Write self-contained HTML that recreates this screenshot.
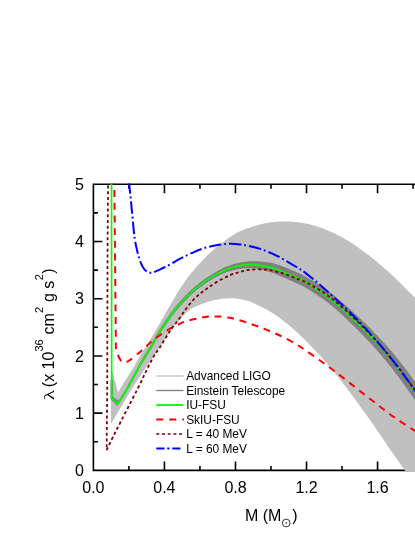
<!DOCTYPE html>
<html><head><meta charset="utf-8"><title>chart</title>
<style>html,body{margin:0;padding:0;background:#fff;}svg{display:block;will-change:transform;}</style></head>
<body>
<svg width="415" height="537" viewBox="0 0 415 537">
<defs><clipPath id="cp"><rect x="92.4" y="183.5" width="330" height="287.8"/></clipPath></defs>
<rect width="415" height="537" fill="#fff"/>
<path d="M93.4,184.2 H420 M93.4,470.4 H420 M93.4,184.2 V470.4" stroke="#000" stroke-width="1.6" fill="none" stroke-linecap="square"/>
<path d="M128.92,184.2 v4.5 M128.92,470.4 v-4.5 M164.44,184.2 v9.0 M164.44,470.4 v-9.0 M199.96,184.2 v4.5 M199.96,470.4 v-4.5 M235.48,184.2 v9.0 M235.48,470.4 v-9.0 M271.00,184.2 v4.5 M271.00,470.4 v-4.5 M306.52,184.2 v9.0 M306.52,470.4 v-9.0 M342.04,184.2 v4.5 M342.04,470.4 v-4.5 M377.56,184.2 v9.0 M377.56,470.4 v-9.0 M413.08,184.2 v4.5 M413.08,470.4 v-4.5 M93.4,441.78 h4.5 M93.4,413.17 h9.0 M93.4,384.55 h4.5 M93.4,355.94 h9.0 M93.4,327.32 h4.5 M93.4,298.71 h9.0 M93.4,270.10 h4.5 M93.4,241.48 h9.0 M93.4,212.87 h4.5 " stroke="#000" stroke-width="1.6" fill="none"/>
<g clip-path="url(#cp)">
<path d="M110.90,372.00 L110.90,423.60 L111.20,423.60 L115.02,417.15 L120.55,407.80 L126.41,397.95 L131.20,390.00 L134.50,384.72 L137.06,380.77 L139.29,377.45 L141.60,374.00 L144.05,370.35 L146.44,366.85 L148.78,363.43 L151.10,360.00 L153.46,356.47 L155.82,352.89 L158.07,349.47 L160.10,346.40 L161.81,343.80 L163.28,341.54 L164.66,339.44 L166.10,337.30 L167.58,335.11 L169.04,332.96 L170.55,330.81 L172.20,328.60 L174.07,326.25 L176.10,323.80 L178.13,321.43 L180.00,319.30 L181.62,317.49 L183.08,315.91 L184.53,314.44 L186.10,313.00 L187.84,311.53 L189.68,310.10 L191.55,308.77 L193.40,307.60 L195.16,306.67 L196.87,305.91 L198.65,305.23 L200.60,304.50 L202.83,303.68 L205.25,302.83 L207.70,302.01 L210.00,301.30 L212.10,300.71 L214.09,300.21 L216.03,299.78 L218.00,299.40 L219.95,299.06 L221.87,298.77 L223.85,298.54 L226.00,298.40 L228.33,298.31 L230.79,298.29 L233.39,298.37 L236.10,298.60 L238.99,298.98 L242.04,299.48 L245.15,300.14 L248.20,301.00 L251.17,302.09 L254.11,303.39 L257.04,304.82 L260.00,306.30 L262.99,307.79 L265.99,309.35 L269.00,311.01 L272.00,312.80 L275.00,314.75 L278.00,316.83 L281.00,319.02 L284.00,321.30 L287.00,323.68 L290.00,326.16 L293.00,328.73 L296.00,331.40 L299.00,334.17 L302.00,337.04 L305.00,339.99 L308.00,343.00 L311.00,346.05 L314.00,349.16 L317.00,352.34 L320.00,355.60 L323.00,358.96 L326.00,362.39 L329.00,365.91 L332.00,369.50 L335.00,373.17 L338.00,376.92 L341.00,380.73 L344.00,384.60 L347.00,388.52 L350.00,392.50 L353.00,396.53 L356.00,400.60 L359.00,404.71 L362.00,408.88 L365.00,413.07 L368.00,417.30 L371.00,421.55 L374.00,425.84 L377.00,430.15 L380.00,434.50 L382.97,438.86 L385.91,443.24 L388.90,447.67 L392.00,452.20 L395.57,457.30 L399.45,462.81 L402.96,467.76 L405.40,471.20 L420.00,471.00 L420.00,303.00 L418.42,301.38 L416.19,299.09 L413.49,296.33 L410.50,293.30 L407.12,289.89 L403.29,286.04 L399.30,282.08 L395.40,278.30 L391.65,274.76 L387.90,271.31 L384.15,267.95 L380.40,264.70 L376.63,261.55 L372.86,258.51 L369.08,255.56 L365.30,252.70 L361.52,249.90 L357.74,247.17 L353.97,244.56 L350.20,242.10 L346.18,239.69 L341.99,237.34 L338.16,235.28 L335.20,233.70 L333.66,232.88 L333.12,232.62 L332.67,232.49 L331.40,232.00 L328.96,230.99 L325.86,229.71 L322.51,228.37 L319.30,227.20 L316.30,226.22 L313.30,225.32 L310.30,224.51 L307.30,223.80 L304.28,223.19 L301.25,222.67 L298.22,222.24 L295.20,221.90 L292.20,221.64 L289.20,221.48 L286.20,221.39 L283.20,221.40 L280.18,221.49 L277.15,221.66 L274.12,221.93 L271.10,222.30 L268.10,222.78 L265.10,223.37 L262.10,224.05 L259.10,224.80 L256.01,225.66 L252.88,226.62 L249.82,227.63 L247.00,228.60 L244.45,229.52 L242.09,230.41 L239.89,231.33 L237.80,232.30 L235.86,233.34 L234.08,234.42 L232.35,235.54 L230.60,236.70 L228.80,237.89 L227.01,239.11 L225.21,240.38 L223.40,241.70 L221.58,243.08 L219.75,244.51 L217.92,245.98 L216.10,247.50 L214.29,249.06 L212.49,250.66 L210.70,252.31 L208.90,254.00 L207.10,255.73 L205.30,257.51 L203.50,259.33 L201.70,261.20 L199.83,263.21 L197.92,265.32 L196.10,267.37 L194.50,269.20 L193.19,270.71 L192.10,272.02 L191.11,273.24 L190.10,274.50 L189.15,275.69 L188.29,276.79 L187.33,278.07 L186.10,279.80 L184.47,282.15 L182.56,284.94 L180.57,287.92 L178.70,290.80 L177.00,293.56 L175.37,296.33 L173.78,299.09 L172.20,301.80 L170.64,304.46 L169.12,307.08 L167.61,309.68 L166.10,312.30 L164.59,314.95 L163.09,317.62 L161.60,320.28 L160.10,322.90 L158.60,325.48 L157.10,328.03 L155.60,330.57 L154.10,333.10 L152.60,335.64 L151.11,338.18 L149.61,340.70 L148.10,343.20 L146.54,345.74 L144.94,348.29 L143.39,350.75 L142.00,353.00 L140.85,354.88 L139.88,356.49 L138.92,358.10 L137.80,360.00 L136.50,362.25 L135.11,364.72 L133.61,367.32 L132.00,370.00 L130.22,372.79 L128.29,375.70 L126.34,378.64 L124.50,381.50 L122.65,384.50 L120.78,387.62 L119.14,390.38 L118.00,392.30 L112.60,372.00 Z" fill="#c0c0c0"/>
<path d="M110.50,380.00 L110.50,399.30 L117.40,405.90 L118.62,404.31 L119.87,402.41 L121.37,400.14 L123.01,397.60 L124.72,394.89 L126.40,392.10 L128.15,389.05 L130.07,385.61 L132.04,381.99 L133.98,378.42 L135.76,375.13 L137.30,372.34 L138.52,370.14 L139.50,368.37 L140.34,366.87 L141.12,365.48 L141.94,364.04 L142.90,362.40 L143.95,360.66 L145.02,358.94 L146.12,357.19 L147.30,355.32 L148.59,353.25 L150.00,350.91 L151.58,348.21 L153.32,345.17 L155.16,341.95 L157.06,338.66 L158.95,335.44 L160.80,332.43 L162.65,329.55 L164.56,326.68 L166.48,323.89 L168.34,321.23 L170.10,318.76 L171.70,316.55 L173.11,314.64 L174.37,313.02 L175.53,311.59 L176.64,310.27 L177.74,308.99 L178.90,307.66 L180.10,306.30 L181.30,304.98 L182.49,303.70 L183.69,302.44 L184.89,301.20 L186.10,299.97 L187.31,298.73 L188.53,297.51 L189.75,296.30 L190.97,295.12 L192.19,293.98 L193.40,292.88 L194.61,291.83 L195.82,290.82 L197.03,289.84 L198.23,288.90 L199.42,287.98 L200.60,287.09 L201.75,286.21 L202.88,285.38 L203.99,284.56 L205.11,283.76 L206.24,282.98 L207.40,282.20 L208.56,281.43 L209.72,280.68 L210.89,279.96 L212.09,279.25 L213.36,278.54 L214.70,277.81 L216.19,277.03 L217.81,276.20 L219.49,275.37 L221.15,274.57 L222.71,273.84 L224.10,273.22 L225.24,272.73 L226.17,272.35 L227.01,272.04 L227.86,271.76 L228.82,271.48 L230.00,271.15 L231.43,270.77 L233.03,270.35 L234.74,269.93 L236.51,269.53 L238.29,269.17 L240.00,268.88 L241.67,268.64 L243.33,268.44 L245.00,268.29 L246.67,268.18 L248.33,268.11 L250.00,268.10 L251.67,268.20 L253.33,268.36 L255.00,268.57 L256.67,268.81 L258.33,269.09 L260.00,269.40 L261.72,269.77 L263.52,270.21 L265.31,270.67 L267.04,271.14 L268.62,271.60 L270.00,272.00 L271.06,272.31 L271.85,272.56 L272.50,272.78 L273.15,273.03 L273.94,273.36 L275.00,273.80 L276.38,274.38 L277.96,275.05 L279.69,275.80 L281.48,276.52 L283.28,277.24 L285.00,277.95 L286.67,278.66 L288.33,279.39 L290.00,280.14 L291.67,280.90 L293.33,281.67 L295.00,282.45 L296.61,283.19 L298.15,283.89 L299.69,284.59 L301.30,285.38 L303.04,286.30 L305.00,287.40 L307.27,288.76 L309.81,290.34 L312.50,292.05 L315.19,293.79 L317.73,295.47 L320.00,297.00 L321.96,298.35 L323.70,299.59 L325.31,300.76 L326.85,301.93 L328.39,303.12 L330.00,304.40 L331.67,305.76 L333.33,307.15 L335.00,308.58 L336.67,310.04 L338.33,311.51 L340.00,313.00 L341.67,314.53 L343.33,316.08 L345.00,317.65 L346.67,319.24 L348.33,320.84 L350.00,322.44 L351.67,324.05 L353.33,325.67 L355.00,327.30 L356.67,328.95 L358.33,330.61 L360.00,332.29 L361.67,333.98 L363.33,335.70 L365.00,337.43 L366.67,339.17 L368.33,340.94 L370.00,342.73 L371.67,344.54 L373.33,346.37 L375.00,348.21 L376.67,350.11 L378.33,352.03 L380.00,353.97 L381.67,355.92 L383.33,357.88 L385.00,359.86 L386.67,361.87 L388.33,363.92 L390.00,366.00 L391.67,368.10 L393.33,370.25 L395.00,372.43 L396.67,374.63 L398.33,376.86 L400.00,379.10 L401.67,381.36 L403.33,383.64 L405.00,385.95 L406.67,388.28 L408.33,390.63 L410.00,393.00 L411.78,395.57 L413.70,398.39 L415.62,401.23 L417.41,403.91 L418.91,406.17 L420.00,407.80 L420.00,388.60 L418.91,387.10 L417.41,385.02 L415.62,382.56 L413.70,379.89 L411.78,377.23 L410.00,374.80 L408.33,372.56 L406.67,370.34 L405.00,368.15 L403.33,365.98 L401.67,363.83 L400.00,361.70 L398.33,359.59 L396.67,357.50 L395.00,355.43 L393.33,353.38 L391.67,351.37 L390.00,349.40 L388.33,347.49 L386.67,345.63 L385.00,343.80 L383.33,341.99 L381.67,340.21 L380.00,338.43 L378.33,336.67 L376.67,334.93 L375.00,333.21 L373.33,331.48 L371.67,329.77 L370.00,328.07 L368.33,326.40 L366.67,324.74 L365.00,323.11 L363.33,321.50 L361.67,319.90 L360.00,318.31 L358.33,316.75 L356.67,315.20 L355.00,313.67 L353.33,312.16 L351.67,310.65 L350.00,309.16 L348.33,307.67 L346.67,306.18 L345.00,304.71 L343.33,303.25 L341.67,301.81 L340.00,300.40 L338.33,298.98 L336.67,297.57 L335.00,296.18 L333.33,294.82 L331.67,293.49 L330.00,292.20 L328.39,290.99 L326.85,289.85 L325.31,288.75 L323.70,287.64 L321.96,286.47 L320.00,285.20 L317.73,283.76 L315.19,282.19 L312.50,280.55 L309.81,278.95 L307.27,277.47 L305.00,276.20 L303.04,275.17 L301.30,274.33 L299.69,273.60 L298.15,272.92 L296.61,272.26 L295.00,271.55 L293.33,270.80 L291.67,270.06 L290.00,269.34 L288.33,268.62 L286.67,267.93 L285.00,267.25 L283.28,266.57 L281.48,265.89 L279.69,265.24 L277.96,264.70 L276.38,264.21 L275.00,263.80 L273.94,263.49 L273.15,263.26 L272.50,263.08 L271.85,262.93 L271.06,262.78 L270.00,262.60 L268.62,262.39 L267.04,262.16 L265.31,261.93 L263.52,261.71 L261.72,261.53 L260.00,261.40 L258.33,261.29 L256.67,261.21 L255.00,261.17 L253.33,261.16 L251.67,261.20 L250.00,261.30 L248.33,261.39 L246.67,261.53 L245.00,261.71 L243.33,261.94 L241.67,262.21 L240.00,262.52 L238.29,262.90 L236.51,263.34 L234.74,263.82 L233.03,264.32 L231.43,264.80 L230.00,265.25 L228.82,265.63 L227.86,265.96 L227.01,266.27 L226.17,266.62 L225.24,267.04 L224.10,267.58 L222.71,268.27 L221.15,269.07 L219.49,269.94 L217.81,270.85 L216.19,271.75 L214.70,272.59 L213.36,273.39 L212.09,274.16 L210.89,274.92 L209.72,275.68 L208.56,276.43 L207.40,277.20 L206.24,277.99 L205.11,278.78 L203.99,279.58 L202.88,280.40 L201.75,281.24 L200.60,282.11 L199.42,283.01 L198.23,283.94 L197.03,284.88 L195.82,285.86 L194.61,286.87 L193.40,287.92 L192.19,289.03 L190.97,290.18 L189.75,291.36 L188.53,292.57 L187.31,293.80 L186.10,295.03 L184.89,296.27 L183.69,297.52 L182.49,298.78 L181.30,300.06 L180.10,301.38 L178.90,302.74 L177.74,304.08 L176.64,305.37 L175.53,306.69 L174.37,308.12 L173.11,309.75 L171.70,311.65 L170.10,313.87 L168.34,316.34 L166.48,319.01 L164.56,321.81 L162.65,324.69 L160.80,327.57 L158.95,330.59 L157.06,333.81 L155.16,337.10 L153.32,340.34 L151.58,343.38 L150.00,346.09 L148.59,348.43 L147.30,350.50 L146.12,352.37 L145.02,354.13 L143.95,355.85 L142.90,357.60 L141.94,359.23 L141.12,360.67 L140.34,362.07 L139.50,363.59 L138.52,365.40 L137.30,367.66 L135.76,370.52 L133.98,373.89 L132.04,377.54 L130.07,381.24 L128.15,384.77 L126.40,387.90 L124.72,390.75 L123.01,393.54 L121.37,396.16 L119.87,398.49 L118.62,400.44 L118.20,400.60 L113.10,397.00 L113.10,380.00 Z" fill="#808080"/>
<path d="M111.5,180 L111.7,398.5 L117.7,403.8 L117.70,403.80 C119.15,401.50 123.13,395.63 126.40,390.00 C129.67,384.37 134.55,375.00 137.30,370.00 C140.05,365.00 140.78,363.58 142.90,360.00 C145.02,356.42 147.02,353.50 150.00,348.50 C152.98,343.50 157.18,335.73 160.80,330.00 C164.42,324.27 168.68,318.23 171.70,314.10 C174.72,309.97 176.50,307.97 178.90,305.20 C181.30,302.43 183.68,299.97 186.10,297.50 C188.52,295.03 190.98,292.55 193.40,290.40 C195.82,288.25 198.27,286.38 200.60,284.60 C202.93,282.82 205.05,281.27 207.40,279.70 C209.75,278.13 211.92,276.75 214.70,275.20 C217.48,273.65 221.55,271.57 224.10,270.40 C226.65,269.23 227.35,268.98 230.00,268.20 C232.65,267.42 236.67,266.28 240.00,265.70 C243.33,265.12 246.67,264.75 250.00,264.70 C253.33,264.65 256.67,264.97 260.00,265.40 C263.33,265.83 267.50,266.73 270.00,267.30 C272.50,267.87 272.50,267.92 275.00,268.80 C277.50,269.68 281.67,271.23 285.00,272.60 C288.33,273.97 291.67,275.47 295.00,277.00 C298.33,278.53 300.83,279.45 305.00,281.80 C309.17,284.15 315.83,288.35 320.00,291.10 C324.17,293.85 326.67,295.70 330.00,298.30 C333.33,300.90 336.67,303.78 340.00,306.70 C343.33,309.62 346.67,312.70 350.00,315.80 C353.33,318.90 356.67,322.03 360.00,325.30 C363.33,328.57 366.67,331.92 370.00,335.40 C373.33,338.88 376.67,342.48 380.00,346.20 C383.33,349.92 386.67,353.67 390.00,357.70 C393.33,361.73 396.67,366.03 400.00,370.40 C403.33,374.77 406.67,379.27 410.00,383.90 C413.33,388.53 418.33,395.82 420.00,398.20" fill="none" stroke="#00ff00" stroke-width="1.7" stroke-linejoin="miter"/>
<path d="M114.3,180 L115.9,347 L115.90,347.00 C116.17,348.17 116.73,351.83 117.50,354.00 C118.27,356.17 119.33,358.60 120.50,360.00 C121.67,361.40 122.92,362.40 124.50,362.40 C126.08,362.40 127.12,361.98 130.00,360.00 C132.88,358.02 137.88,353.85 141.80,350.50 C145.72,347.15 149.05,343.40 153.50,339.90 C157.95,336.40 164.27,332.12 168.50,329.50 C172.73,326.88 175.65,325.68 178.90,324.20 C182.15,322.72 183.67,321.78 188.00,320.60 C192.33,319.42 200.90,317.78 204.90,317.10 C208.90,316.42 209.48,316.60 212.00,316.50 C214.52,316.40 217.33,316.32 220.00,316.50 C222.67,316.68 225.32,317.12 228.00,317.60 C230.68,318.08 232.73,318.50 236.10,319.40 C239.47,320.30 244.18,321.68 248.20,323.00 C252.22,324.32 256.18,325.77 260.20,327.30 C264.22,328.83 268.28,330.47 272.30,332.20 C276.32,333.93 280.28,335.65 284.30,337.70 C288.32,339.75 292.95,342.45 296.40,344.50 C299.85,346.55 301.07,347.33 305.00,350.00 C308.93,352.67 315.00,356.92 320.00,360.50 C325.00,364.08 329.23,367.12 335.00,371.50 C340.77,375.88 348.08,381.72 354.60,386.80 C361.12,391.88 367.58,396.98 374.10,402.00 C380.62,407.02 386.88,412.07 393.70,416.90 C400.52,421.73 410.62,428.10 415.00,431.00 C419.38,433.90 419.17,433.75 420.00,434.30" fill="none" stroke="#ff0000" stroke-width="2" stroke-dasharray="6.9 5.8" stroke-dashoffset="2.6"/>
<path d="M108.1,180 L107.6,240 L107.2,390 L106.6,450 L106.60,450.00 C108.25,446.67 111.43,440.00 116.50,430.00 C121.57,420.00 131.13,401.67 137.00,390.00 C142.87,378.33 147.85,367.17 151.70,360.00 C155.55,352.83 157.08,351.78 160.10,347.00 C163.12,342.22 166.67,335.95 169.80,331.30 C172.93,326.65 176.18,322.87 178.90,319.10 C181.62,315.33 183.68,311.92 186.10,308.70 C188.52,305.48 190.98,302.38 193.40,299.80 C195.82,297.22 198.20,295.18 200.60,293.20 C203.00,291.22 204.90,289.91 207.80,287.94 C210.70,285.96 214.30,283.45 218.00,281.33 C221.70,279.20 226.33,276.77 230.00,275.20 C233.67,273.63 236.67,272.82 240.00,271.90 C243.33,270.98 245.83,270.09 250.00,269.70 C254.17,269.31 260.83,269.27 265.00,269.54 C269.17,269.81 271.67,270.56 275.00,271.30 C278.33,272.04 281.67,272.90 285.00,274.00 C288.33,275.10 291.67,276.60 295.00,277.90 C298.33,279.20 301.67,280.22 305.00,281.80 C308.33,283.38 311.67,285.40 315.00,287.37 C318.33,289.34 321.67,291.33 325.00,293.63 C328.33,295.94 330.83,297.72 335.00,301.18 C339.17,304.64 345.00,309.75 350.00,314.40 C355.00,319.05 360.00,323.94 365.00,329.07 C370.00,334.20 375.00,339.52 380.00,345.20 C385.00,350.88 390.83,357.95 395.00,363.12 C399.17,368.30 401.67,371.74 405.00,376.25 C408.33,380.76 412.50,386.67 415.00,390.20 C417.50,393.72 419.17,396.20 420.00,397.40" fill="none" stroke="#800000" stroke-width="1.8" stroke-dasharray="3.1 2.65" stroke-dashoffset="0.3"/>
<path d="M128.90,180.00 C128.95,180.67 128.88,180.73 129.20,184.00 C129.52,187.27 130.22,193.75 130.80,199.60 C131.38,205.45 132.05,212.58 132.70,219.10 C133.35,225.62 133.88,233.15 134.70,238.70 C135.52,244.25 136.63,248.50 137.60,252.40 C138.57,256.30 139.37,259.27 140.50,262.10 C141.63,264.93 142.85,267.63 144.40,269.40 C145.95,271.17 148.00,272.33 149.80,272.70 C151.60,273.07 153.00,272.38 155.20,271.60 C157.40,270.82 160.40,269.25 163.00,268.00 C165.60,266.75 168.18,265.53 170.80,264.10 C173.42,262.67 175.97,260.88 178.70,259.40 C181.43,257.92 184.57,256.45 187.20,255.20 C189.83,253.95 192.08,252.93 194.50,251.90 C196.92,250.87 199.30,249.85 201.70,249.00 C204.10,248.15 206.50,247.43 208.90,246.80 C211.30,246.17 213.68,245.63 216.10,245.20 C218.52,244.77 220.98,244.43 223.40,244.20 C225.82,243.97 227.83,243.77 230.60,243.80 C233.37,243.83 237.07,244.07 240.00,244.40 C242.93,244.73 244.83,245.05 248.20,245.80 C251.57,246.55 256.18,247.58 260.20,248.90 C264.22,250.22 268.28,251.88 272.30,253.70 C276.32,255.52 280.28,257.58 284.30,259.80 C288.32,262.02 292.95,264.87 296.40,267.00 C299.85,269.13 301.05,269.62 305.00,272.60 C308.95,275.58 315.07,280.58 320.10,284.90 C325.13,289.22 330.18,293.90 335.20,298.50 C340.22,303.10 345.23,307.59 350.20,312.49 C355.17,317.38 360.87,323.43 365.00,327.87 C369.13,332.31 371.67,335.29 375.00,339.11 C378.33,342.94 381.67,346.80 385.00,350.83 C388.33,354.87 391.67,359.02 395.00,363.32 C398.33,367.63 401.67,372.10 405.00,376.65 C408.33,381.20 412.50,387.07 415.00,390.60 C417.50,394.12 419.17,396.60 420.00,397.80" fill="none" stroke="#0000ff" stroke-width="2" stroke-dasharray="12.3 2.9 1.9 3.1" stroke-dashoffset="18.8"/>
</g>
<path d="M156.3,376.0 H183.5" stroke="#c0c0c0" stroke-width="1.3"/>
<path d="M156.3,390.5 H183.5" stroke="#808080" stroke-width="1.3"/>
<path d="M156.3,405.0 H183.5" stroke="#00ff00" stroke-width="1.8"/>
<path d="M156.3,419.6 H184" stroke="#ff0000" stroke-width="2" stroke-dasharray="7 6"/>
<path d="M156.3,434.0 H183.5" stroke="#800000" stroke-width="1.7" stroke-dasharray="3 2.7"/>
<path d="M156.3,448.5 H180.4" stroke="#0000ff" stroke-width="2" stroke-dasharray="8.2 2.7 2.2 2.9"/>
<g font-family="Liberation Sans, sans-serif" font-size="11.9" fill="#000">
<text x="186.2" y="380.0">Advanced LIGO</text>
<text x="186.2" y="394.5">Einstein Telescope</text>
<text x="186.2" y="409.0">IU-FSU</text>
<text x="186.2" y="423.6">SkIU-FSU</text>
<text x="186.2" y="438.0">L = 40 MeV</text>
<text x="186.2" y="452.5">L = 60 MeV</text>
</g>
<g font-family="Liberation Sans, sans-serif" font-size="16" fill="#000">
<text x="84" y="476.0" text-anchor="end">0</text>
<text x="84" y="418.8" text-anchor="end">1</text>
<text x="84" y="361.5" text-anchor="end">2</text>
<text x="84" y="304.3" text-anchor="end">3</text>
<text x="84" y="247.1" text-anchor="end">4</text>
<text x="84" y="189.8" text-anchor="end">5</text>
<text x="93.4" y="492.8" text-anchor="middle">0.0</text>
<text x="164.4" y="492.8" text-anchor="middle">0.4</text>
<text x="235.5" y="492.8" text-anchor="middle">0.8</text>
<text x="306.5" y="492.8" text-anchor="middle">1.2</text>
<text x="377.6" y="492.8" text-anchor="middle">1.6</text>
<text x="244.9" y="520.6">M (M</text>
<text x="292.3" y="520.6">)</text>
<circle cx="286.25" cy="523" r="3.85" fill="none" stroke="#000" stroke-width="0.8"/><circle cx="286.25" cy="523" r="0.8" fill="#000"/>
<g transform="translate(53.8,0) rotate(-90)">
<text transform="translate(-400,0) scale(1.3,0.95)" font-family="Liberation Serif, serif">&#955;</text>
<text x="-387.2" y="0">(x 10<tspan font-size="11" dy="-10.6">36</tspan><tspan dy="10.6" dx="0.3"> cm</tspan><tspan font-size="11" dy="-10.6" dx="0.3">2</tspan><tspan dy="10.6" dx="0.4"> g s</tspan><tspan font-size="11" dy="-10.6" dx="0.3">2</tspan><tspan dy="10.6" dx="0.4">)</tspan></text>
</g>
</g>
</svg>
</body></html>
